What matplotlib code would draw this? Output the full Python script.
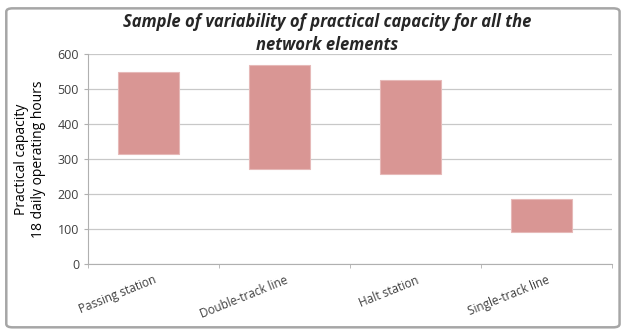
import matplotlib.pyplot as plt
import numpy as np
from matplotlib.patches import FancyBboxPatch

categories = ["Passing station", "Double-track line", "Halt station", "Single-track line"]
cap_low = [315, 270, 257, 92]
cap_high = [550, 570, 527, 185]

plt.rcParams['font.family'] = ['Open Sans', 'DejaVu Sans']

fig = plt.figure(figsize=(6.29, 3.34), dpi=100)
fig.patches.append(FancyBboxPatch((0.01, 0.02), 0.975, 0.955, boxstyle="round,pad=0,rounding_size=0.01",
                                  transform=fig.transFigure, fill=False, edgecolor='#a6a6a6', linewidth=1.8))
ax = fig.add_axes([0.14, 0.21, 0.833, 0.628])

x = np.arange(len(categories))
heights = np.array(cap_high) - np.array(cap_low)
ax.bar(x - 0.04, heights, bottom=cap_low, width=0.47, color='#d99694', edgecolor='#e6b9b8', linewidth=0.8, zorder=3)

ax.set_ylim(0, 600)
ax.set_yticks(range(0, 601, 100))
ax.set_xlim(-0.5, len(categories) - 0.5)
ax.yaxis.grid(True, color='#c8c8c8', linewidth=0.9)
ax.set_axisbelow(True)
for s in ['top', 'right']:
    ax.spines[s].set_visible(False)
ax.spines['left'].set_color('#b0b0b0')
ax.spines['bottom'].set_color('#b0b0b0')

ax.set_xticks(np.arange(-0.5, len(categories)), minor=True)
ax.set_xticks(x)
ax.set_xticklabels(categories, rotation=22, ha='right', rotation_mode='anchor', fontsize=8.5, color='#404040')
ax.tick_params(axis='x', which='major', length=0, pad=7)
ax.tick_params(axis='x', which='minor', length=3, color='#b0b0b0')
ax.tick_params(axis='y', length=3, color='#b0b0b0', labelsize=9, labelcolor='#404040')

ax.set_ylabel("Practical capacity\n18 daily operating hours", fontsize=10, color='black', labelpad=8)
fig.suptitle("Sample of variability of practical capacity for all the\nnetwork elements",
             x=0.52, y=0.96, fontsize=12, fontweight='bold', fontstyle='italic', color='#262626',
             linespacing=1.3)

fig.savefig("out.png", dpi=100)
